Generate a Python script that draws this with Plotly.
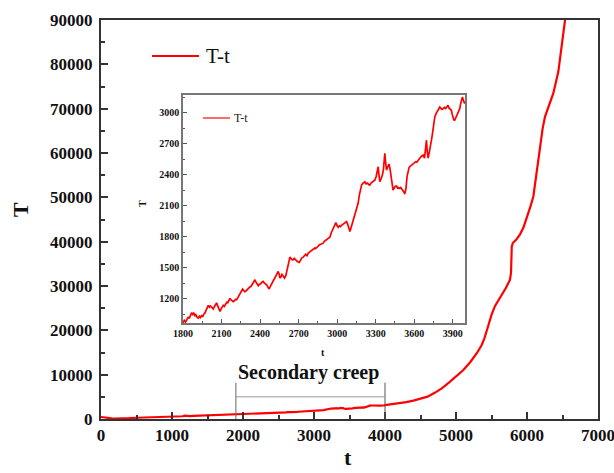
import plotly.graph_objects as go

# ---- creep record: T against t ----
# early stage (primary creep)
early_t = [0, 50, 100, 150, 200, 250, 300, 400, 500, 600, 700, 800, 900, 1000,
           1100, 1150, 1180, 1200, 1250, 1300, 1400, 1500, 1600, 1700, 1790]
early_T = [450, 400, 300, 150, 70, 60, 100, 180, 280, 320, 360, 420, 470, 520,
           580, 620, 750, 680, 660, 690, 750, 800, 860, 920, 960]

# secondary creep window (also shown magnified in the inset)
mid_t = [1800, 1810, 1820, 1830, 1840, 1850, 1860, 1868, 1876, 1884, 1893, 1900,
         1910, 1919, 1928, 1936, 1945, 1955, 1963, 1971, 1980, 1990, 1997, 2005,
         2012, 2023, 2030, 2036, 2045, 2055, 2062, 2070, 2080, 2088, 2096, 2105,
         2113, 2122, 2130, 2140, 2148, 2156, 2165, 2172, 2180, 2191, 2200, 2210,
         2218, 2228, 2236, 2243, 2252, 2258, 2264, 2272, 2280, 2290, 2300, 2310,
         2321, 2330, 2340, 2350, 2360, 2368, 2376, 2386, 2395, 2405, 2414, 2424,
         2432, 2440, 2451, 2460, 2471, 2480, 2490, 2502, 2512, 2522, 2530, 2541,
         2548, 2554, 2562, 2570, 2580, 2590, 2600, 2612, 2620, 2632, 2640, 2650,
         2658, 2666, 2675, 2685, 2695, 2705, 2715, 2725, 2736, 2745, 2755, 2765,
         2775, 2785, 2795, 2805, 2815, 2825, 2833, 2840, 2850, 2860, 2870, 2880,
         2891, 2900, 2910, 2920, 2930, 2943, 2955, 2965, 2975, 2982, 2990, 2998,
         3008, 3018, 3026, 3034, 3045, 3055, 3065, 3073, 3082, 3090, 3099, 3108,
         3115, 3120, 3128, 3137, 3150, 3163, 3172, 3182, 3190, 3200, 3208, 3215,
         3225, 3235, 3245, 3254, 3265, 3275, 3285, 3293, 3303, 3312, 3319, 3325,
         3332, 3342, 3353, 3360, 3366, 3371, 3377, 3384, 3392, 3398, 3404, 3412,
         3422, 3428, 3435, 3442, 3450, 3462, 3470, 3478, 3487, 3495, 3505, 3513,
         3520, 3526, 3535, 3544, 3552, 3560, 3568, 3578, 3590, 3600, 3612, 3620,
         3630, 3640, 3650, 3660, 3669, 3680, 3688, 3695, 3700, 3708, 3716, 3725,
         3734, 3742, 3750, 3760, 3770, 3780, 3790, 3799, 3808, 3816, 3825, 3835,
         3845, 3855, 3863, 3870, 3880, 3889, 3895, 3902, 3908, 3915, 3922, 3930,
         3941, 3948, 3954, 3960, 3968, 3975, 3982, 3988, 3993]
mid_T = [965, 990, 975, 1000, 1020, 1015, 1055, 1065, 1048, 1060, 1036, 1045,
         1020, 1012, 1030, 1018, 1036, 1030, 1052, 1062, 1090, 1110, 1135, 1118,
         1130, 1118, 1108, 1100, 1125, 1140, 1160, 1130, 1100, 1078, 1100, 1118,
         1135, 1125, 1150, 1165, 1160, 1185, 1203, 1190, 1178, 1172, 1180, 1195,
         1190, 1215, 1225, 1240, 1265, 1285, 1294, 1280, 1268, 1275, 1290, 1300,
         1313, 1320, 1340, 1360, 1383, 1360, 1340, 1325, 1340, 1345, 1360, 1367,
         1352, 1345, 1335, 1315, 1294, 1320, 1345, 1367, 1390, 1420, 1450, 1463,
         1440, 1400, 1410, 1435, 1420, 1400, 1420, 1500, 1560, 1602, 1590, 1575,
         1576, 1590, 1578, 1565, 1555, 1550, 1575, 1595, 1602, 1620, 1630, 1615,
         1641, 1650, 1660, 1670, 1672, 1690, 1685, 1698, 1705, 1720, 1728, 1735,
         1737, 1755, 1765, 1772, 1785, 1795, 1840, 1870, 1905, 1930, 1936, 1910,
         1891, 1905, 1898, 1910, 1920, 1925, 1935, 1946, 1920, 1880, 1849, 1885,
         1915, 1930, 1960, 1994, 2060, 2123, 2200, 2260, 2299, 2315, 2330, 2331,
         2310, 2318, 2305, 2299, 2320, 2330, 2342, 2347, 2380, 2440, 2476, 2400,
         2331, 2360, 2400, 2450, 2540, 2605, 2520, 2444, 2470, 2490, 2502, 2450,
         2380, 2300, 2251, 2265, 2285, 2290, 2270, 2275, 2267, 2275, 2260, 2251,
         2230, 2213, 2260, 2380, 2444, 2470, 2480, 2492, 2505, 2515, 2525, 2520,
         2540, 2555, 2570, 2580, 2589, 2560, 2640, 2733, 2640, 2560, 2610, 2660,
         2733, 2800, 2870, 2958, 2990, 3010, 3040, 3054, 3040, 3030, 3038, 3050,
         3040, 3060, 3071, 3045, 3030, 3022, 2985, 2950, 2930, 2926, 2945, 2970,
         2991, 3010, 3038, 3080, 3130, 3150, 3120, 3095, 3087]

# tertiary stage
late_t = [4000, 4100, 4200, 4300, 4400, 4500, 4600, 4700, 4800, 4900, 5000, 5100,
          5200, 5300, 5362, 5400, 5450, 5500, 5550, 5600, 5650, 5700, 5760, 5775,
          5785, 5800, 5850, 5900, 5950, 6000, 6050, 6089, 6120, 6150, 6183, 6220,
          6254, 6300, 6371, 6441, 6470, 6500, 6540]
late_T = [3150, 3350, 3550, 3800, 4150, 4550, 5050, 5900, 6900, 8200, 9500, 11000,
          12800, 15000, 16700, 18200, 20800, 23500, 25500, 26800, 28100, 29500, 31400, 33000,
          38800, 39700, 40500, 41600, 43200, 45500, 48000, 50150, 54000, 58000, 62200, 65500,
          68200, 70200, 73500, 78300, 82000, 85500, 90500]

full_t = early_t + mid_t + late_t
full_T = early_T + mid_T + late_T

series_name = "T-t"
main_xticks = [0, 1000, 2000, 3000, 4000, 5000, 6000, 7000]
main_yticks = [0, 10000, 20000, 30000, 40000, 50000, 60000, 70000, 80000, 90000]
inset_xticks = [1800, 2100, 2400, 2700, 3000, 3300, 3600, 3900]
inset_yticks = [1200, 1500, 1800, 2100, 2400, 2700, 3000]
stage_label = "Secondary creep"
stage_start, stage_end = 1900, 4000

W, H = 614, 473
SERIF = "Liberation Serif, Times New Roman, serif"
RED = "#ff0000"


def px(x):
    return x / W


def py(y):
    return (H - y) / H


fig = go.Figure()
fig.add_trace(go.Scatter(x=full_t, y=full_T, mode="lines", name=series_name,
                         line=dict(color=RED, width=2.2), xaxis="x", yaxis="y",
                         showlegend=False))
fig.add_trace(go.Scatter(x=mid_t, y=mid_T, mode="lines", name=series_name,
                         line=dict(color=RED, width=1.7), xaxis="x2", yaxis="y2",
                         showlegend=False))

main_axis = dict(showgrid=False, zeroline=False, showline=True, mirror=True,
                 automargin=False, ticklabeloverflow="allow",
                 linecolor="#333333", linewidth=2, ticks="inside", ticklen=7,
                 tickwidth=2, tickcolor="#333333",
                 tickfont=dict(family=SERIF, size=17, color="#111111", weight="bold"))
inset_axis = dict(showgrid=False, zeroline=False, showline=True, mirror=True,
                  automargin=False, ticklabeloverflow="allow",
                  linecolor="#777777", linewidth=1.5, ticks="inside", ticklen=4,
                  tickwidth=1, tickcolor="#555555",
                  tickfont=dict(family=SERIF, size=10, color="#111111", weight="bold"))

fig.update_layout(
    width=W, height=H,
    margin=dict(l=0, r=0, t=0, b=0, autoexpand=False),
    paper_bgcolor="white", plot_bgcolor="white",
    xaxis=dict(main_axis, domain=[px(101), px(598)], range=[0, 7000],
               tickvals=main_xticks, ticktext=[str(v) for v in main_xticks], anchor="y",
               minor=dict(ticks="inside", ticklen=4, tickwidth=2, tickcolor="#333333",
                          dtick=500, tick0=0)),
    yaxis=dict(main_axis, domain=[py(419), py(20)], range=[0, 90000],
               tickvals=main_yticks, ticktext=[str(v) for v in main_yticks], anchor="x",
               ticklabelstandoff=3,
               minor=dict(ticks="inside", ticklen=4, tickwidth=2, tickcolor="#333333",
                          dtick=5000, tick0=0)),
    xaxis2=dict(inset_axis, domain=[px(183), px(465)], range=[1800, 3995],
                tickvals=inset_xticks, ticktext=[str(v) for v in inset_xticks], anchor="y2",
                minor=dict(ticks="inside", ticklen=2.5, tickwidth=1, tickcolor="#555555",
                           dtick=150, tick0=1800)),
    yaxis2=dict(inset_axis, domain=[py(323), py(95)], range=[965, 3170],
                tickvals=inset_yticks, ticktext=[str(v) for v in inset_yticks], anchor="x2",
                minor=dict(ticks="inside", ticklen=2.5, tickwidth=1, tickcolor="#555555",
                           dtick=150, tick0=1200)),
)

shapes = [
    # stage bracket
    dict(type="line", xref="x", yref="y", x0=stage_start, x1=stage_start, y0=0, y1=8200,
         line=dict(color="#666666", width=1)),
    dict(type="line", xref="x", yref="y", x0=stage_end, x1=stage_end, y0=0, y1=8200,
         line=dict(color="#555555", width=1)),
    dict(type="line", xref="x", yref="y", x0=stage_start, x1=stage_end, y0=5000, y1=5000,
         line=dict(color="#999999", width=1)),
    # legend samples
    dict(type="line", xref="paper", yref="paper", x0=px(152), x1=px(199),
         y0=py(56), y1=py(56), line=dict(color=RED, width=2.2)),
    dict(type="line", xref="paper", yref="paper", x0=px(203), x1=px(230),
         y0=py(118), y1=py(118), line=dict(color="#ff3b3b", width=1.5)),
]
fig.update_layout(shapes=shapes)

annotations = [
    dict(text=series_name, xref="paper", yref="paper", x=px(204), y=py(56),
         xanchor="left", yanchor="middle", showarrow=False,
         font=dict(family=SERIF, size=21, color="#111111")),
    dict(text=series_name, xref="paper", yref="paper", x=px(232), y=py(118),
         xanchor="left", yanchor="middle", showarrow=False,
         font=dict(family=SERIF, size=12, color="#222222")),
    dict(text="T", xref="paper", yref="paper", x=px(20), y=py(210), textangle=-90,
         xanchor="center", yanchor="middle", showarrow=False,
         font=dict(family=SERIF, size=22, color="#111111", weight="bold")),
    dict(text="t", xref="paper", yref="paper", x=px(348), y=0.002,
         xanchor="center", yanchor="bottom", showarrow=False,
         font=dict(family=SERIF, size=22, color="#111111", weight="bold")),
    dict(text="T", xref="paper", yref="paper", x=px(142), y=py(204), textangle=-90,
         xanchor="center", yanchor="middle", showarrow=False,
         font=dict(family=SERIF, size=10, color="#111111", weight="bold")),
    dict(text="t", xref="paper", yref="paper", x=px(323), y=py(352),
         xanchor="center", yanchor="middle", showarrow=False,
         font=dict(family=SERIF, size=10, color="#111111", weight="bold")),
    dict(text=stage_label, xref="x", yref="y", x=(stage_start + stage_end) / 2 - 30,
         y=10400, xanchor="center", yanchor="middle", showarrow=False,
         font=dict(family=SERIF, size=20, color="#111111", weight="bold")),
]
fig.update_layout(annotations=annotations)

fig.write_html("out.html")
